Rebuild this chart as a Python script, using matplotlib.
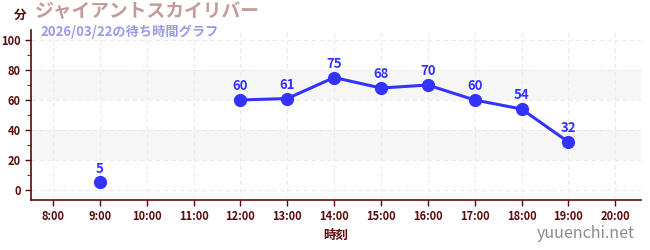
import matplotlib
matplotlib.use("Agg")
import matplotlib.pyplot as plt
import numpy as np

plt.rcParams['font.family'] = ['Noto Sans CJK JP', 'DejaVu Sans']

hours = [8, 9, 10, 11, 12, 13, 14, 15, 16, 17, 18, 19, 20]
tick_labels = [f"{h}:00" for h in hours]
wait = [np.nan, 5, np.nan, np.nan, 60, 61, 75, 68, 70, 60, 54, 32, np.nan]
title = "ジャイアントスカイリバー"
subtitle = "2026/03/22の待ち時間グラフ"

dark = "#5a0a0a"
blue = "#3333ff"

fig = plt.figure(figsize=(6.5, 2.5), dpi=100)
ax = fig.add_axes([31/650, 50/250, 610/650, 170/250])
ax.set_xlim(7.53, 20.55)
ax.set_ylim(-6.7, 106.7)

for lo, hi in [(20, 40), (60, 80)]:
    ax.axhspan(lo, hi, color="#f6f6f6", zorder=0, lw=0)
for y in range(0, 101, 20):
    ax.axhline(y, color="#ebebeb", lw=0.8, ls=(0, (4, 3)), zorder=1)
for h in hours:
    ax.axvline(h, color="#ebebeb", lw=0.8, ls=(0, (4, 3)), zorder=1)

w = np.array(wait, dtype=float)
ax.plot(hours, w, color=blue, lw=2.2, marker="o", ms=8.5, zorder=3)
for h, v in zip(hours, wait):
    if not np.isnan(v):
        ax.annotate(f"{int(v)}", (h, v), xytext=(0, 5), textcoords="offset points",
                    ha="center", va="bottom", color=blue, fontsize=9.5,
                    fontweight="bold", zorder=4)

ax.set_xticks(hours)
ax.set_xticklabels(tick_labels)
ax.set_yticks(range(0, 101, 20))
ax.set_yticks(range(10, 101, 20), minor=True)
ax.tick_params(axis="both", colors=dark, labelsize=8, length=4, width=1)
ax.tick_params(axis="y", which="minor", colors="#cc0000", length=3, width=0.8)
for lab in ax.get_xticklabels() + ax.get_yticklabels():
    lab.set_color(dark)
    lab.set_fontweight("bold")
for s in ["top", "right"]:
    ax.spines[s].set_visible(False)
for s in ["left", "bottom"]:
    ax.spines[s].set_color(dark)
    ax.spines[s].set_linewidth(1.2)

ax.set_xlabel("時刻", color=dark, fontsize=9, fontweight="bold", labelpad=4)

fig.text(20/650, 1 - 15/250, "分", color=dark, fontsize=9, fontweight="bold",
         ha="center", va="center")
fig.text(35/650, 1 - 12/250, title, color="#c49a9a", fontsize=13.5,
         fontweight="bold", ha="left", va="center")
fig.text(40/650, 1 - 32/250, subtitle, color="#9999ee", fontsize=9.5,
         fontweight="bold", ha="left", va="center")
fig.text(635/650, 1 - 233/250, "yuuenchi.net", color="#8a8a8a", fontsize=11.5,
         ha="right", va="center")

fig.savefig("out.png", dpi=100)
